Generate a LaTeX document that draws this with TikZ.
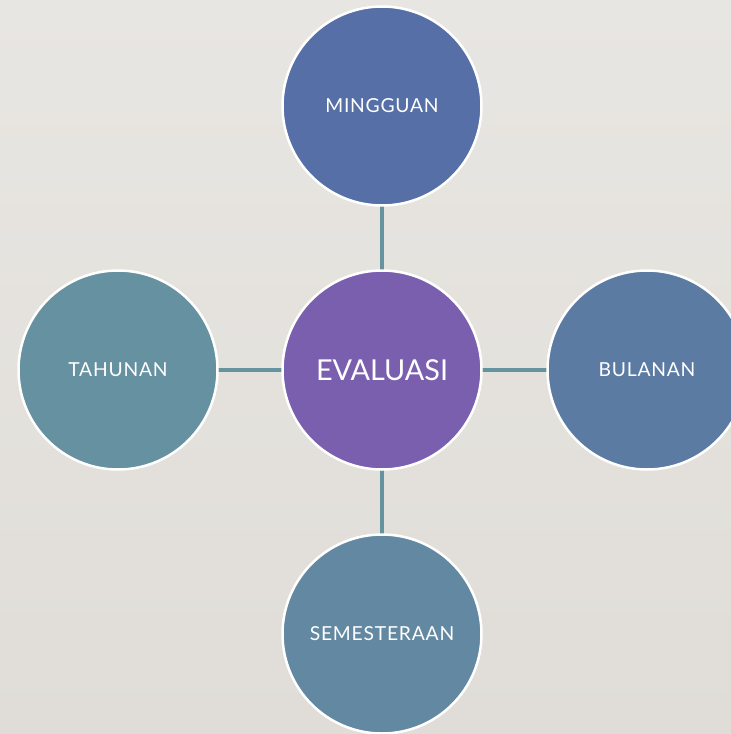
\documentclass[tikz,border=0pt]{standalone}
\usepackage{fontspec}
\setmainfont{Lato}
\newfontfamily\labelfont[LetterSpace=4]{Lato}
\usetikzlibrary{backgrounds}
\definecolor{bgtop}{HTML}{E8E6E2}
\definecolor{bgbot}{HTML}{E0DDD8}
\definecolor{cweek}{HTML}{566FA7}
\definecolor{ceval}{HTML}{7A5FAF}
\definecolor{cmonth}{HTML}{5B7BA3}
\definecolor{cyear}{HTML}{6591A0}
\definecolor{csem}{HTML}{6388A2}
\definecolor{clink}{HTML}{6593A0}
\tikzset{
  bubble/.style={circle, draw=white, line width=2.5pt, minimum size=199pt, inner sep=0pt,
    text=white, font=\labelfont\fontsize{19.3}{21}\selectfont},
  link/.style={draw=clink, line width=3.5pt}
}
\begin{document}
\begin{tikzpicture}[x=1pt,y=-1pt]
\useasboundingbox (0,0) rectangle (731,734);
\begin{scope}[on background layer]
\shade[top color=bgtop, bottom color=bgbot] (0,0) rectangle (731,734);
\end{scope}
\begin{scope}
\clip (0,0) rectangle (731,734);
\node[bubble, fill=ceval, font=\rmfamily\fontsize{28.8}{30}\selectfont] (eval) at (382,370) {EVALUASI};
\node[bubble, fill=cweek] (week) at (382,106) {MINGGUAN};
\node[bubble, fill=cmonth] (month) at (647,370) {BULANAN};
\node[bubble, fill=cyear] (year) at (118,370) {TAHUNAN};
\node[bubble, fill=csem] (sem) at (382,634) {SEMESTERAAN};
\end{scope}
\begin{scope}[on background layer]
\draw[link] (eval.center) -- (week.center);
\draw[link] (eval.center) -- (month.center);
\draw[link] (eval.center) -- (year.center);
\draw[link] (eval.center) -- (sem.center);
\end{scope}
\end{tikzpicture}
\end{document}
